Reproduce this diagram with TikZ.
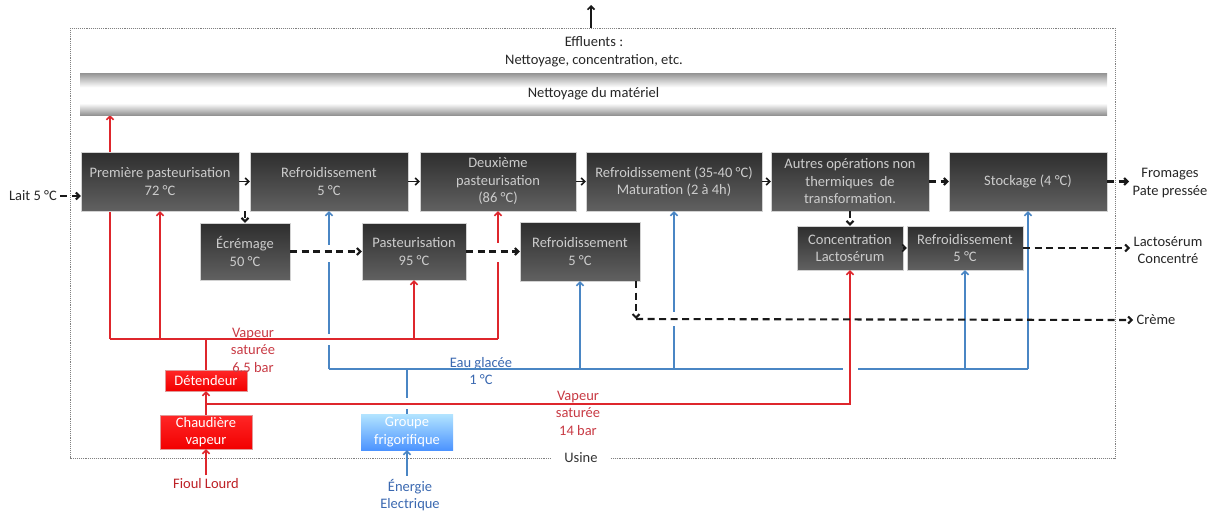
\documentclass[tikz,border=0pt]{standalone}
\usepackage{fontspec}
\setmainfont{Carlito}
\usetikzlibrary{shapes,arrows,arrows.meta,positioning,backgrounds}
\definecolor{vap}{RGB}{222,38,44}
\definecolor{vaptxt}{RGB}{200,58,68}
\definecolor{eau}{RGB}{74,134,196}
\definecolor{eautxt}{RGB}{58,104,176}
\pgfdeclareverticalshading{pipe}{100bp}{color(0bp)=(gray!85); color(25bp)=(gray!85);
  color(39bp)=(white); color(58bp)=(white); color(75bp)=(gray!85); color(100bp)=(gray!85)}

\tikzstyle{proc} = [draw=gray!35, top color=black!82, bottom color=black!62, rectangle,
    text=white!80!black, align=center, inner sep=0pt]
\tikzstyle{redbox} = [draw=red!70!black!40, top color=red!85, bottom color=red!95!black, rectangle,
    text=white, align=center, inner sep=0pt]
\tikzstyle{bluebox} = [top color=blue!35!cyan!30, bottom color=blue!60!cyan!70, rectangle,
    text=white, align=center, inner sep=0pt]
\tikzstyle{steam} = [draw=vap, line width=1.5pt]
\tikzstyle{water} = [draw=eau, line width=1.5pt]
\tikzstyle{flow} = [draw=black!90, line width=2.1pt, dash pattern=on 7pt off 4.5pt]
\tikzstyle{solidflow} = [draw=black!90, line width=1.6pt]

\begin{document}
\begin{tikzpicture}[x=1pt, y=-1pt, font=\fontsize{14.5}{17.5}\selectfont,
    >={Straight Barb[length=3.5pt,width=7pt]}]
\useasboundingbox (0,0) rectangle (1210,514);

% frame of the plant
\draw[gray, densely dotted, line width=0.9pt] (70,28) rectangle (1115,458);
\node[fill=white, inner xsep=12pt, inner ysep=2pt, text=black!80] (usine) at (581,458) {Usine};

\coordinate (efftop) at (591,28);
\coordinate (effout) at (591,5);
\draw[solidflow, ->] (efftop) -- (effout);
\node[align=center, text=black!85] (eff) at (594,52) {Effluents :\\Nettoyage, concentration, etc.};

\node[shading=pipe, minimum width=1027pt, minimum height=42pt, inner sep=0pt, text=black!85] (pipe) at (593.5,94) {Nettoyage du mat\'eriel};

% process blocks
\node[proc, minimum width=158pt, minimum height=59pt] (p1) at (160,181.5) {Premi\`ere pasteurisation\\72 °C};
\node[proc, minimum width=158pt, minimum height=59pt] (r1) at (329,181.5) {Refroidissement\\5 °C};
\node[proc, minimum width=156pt, minimum height=59pt] (p2) at (498,181.5) {Deuxi\`eme\\pasteurisation\\(86 °C)};
\node[proc, minimum width=176pt, minimum height=59pt] (r2) at (674,181.5) {Refroidissement (35-40 °C)\\Maturation (2 \`a 4h)};
\node[proc, minimum width=158pt, minimum height=59pt] (ops) at (850,181.5) {Autres op\'erations non\\thermiques\ \ de\\transformation.};
\node[proc, minimum width=158pt, minimum height=59pt] (st) at (1028,181.5) {Stockage (4 °C)};

\node[proc, minimum width=90pt, minimum height=57pt] (ecr) at (245,251.5) {\'Ecr\'emage\\50 °C};
\node[proc, minimum width=104pt, minimum height=57pt] (pas) at (414,251.5) {Pasteurisation\\95 °C};
\node[proc, minimum width=120pt, minimum height=59pt] (r3) at (580,251.5) {Refroidissement\\5 °C};
\node[proc, minimum width=106pt, minimum height=44pt] (conc) at (850,248) {Concentration\\Lactos\'erum};
\node[proc, minimum width=116pt, minimum height=44pt] (r4) at (965,248) {Refroidissement\\5 °C};

% utilities
\node[redbox, minimum width=82pt, minimum height=21pt] (det) at (206,380.5) {D\'etendeur};
\node[redbox, minimum width=92pt, minimum height=34pt] (chau) at (206,432) {Chaudi\`ere\\vapeur};
\node[bluebox, minimum width=92pt, minimum height=36pt] (grp) at (407,432) {Groupe\\frigorifique};

% outside labels
\node[text=black!85] (lait) at (33,196) {Lait 5 °C};
\node[align=center, text=black!85] (from) at (1170,183) {Fromages\\Pate press\'ee};
\node[align=center, text=black!85] (lact) at (1168,250) {Lactos\'erum\\Concentr\'e};
\node[text=black!85] (creme) at (1156,320) {Cr\`eme};
\node[text=vap!85!black] (fioul) at (206,484) {Fioul Lourd};
\node[align=center, text=eautxt] (elec) at (410,495) {\'Energie\\Electrique};
\node[align=center, text=vaptxt] (v65) at (253,350) {Vapeur\\satur\'ee\\6.5 bar};
\node[align=center, text=eautxt] (eg) at (481,371) {Eau glac\'ee\\1 °C};
\node[align=center, text=vaptxt] (v14) at (578,413) {Vapeur\\satur\'ee\\14 bar};

% chilled water
\coordinate (wA) at (329,369);
\coordinate (wB) at (1028,369);
\coordinate (wG) at (407,369);
\draw[water] (wA) -- (wB);
\draw[water] (grp.north) -- (wG);
\draw[water, ->] (wA) -- (r1.south);
\draw[water, ->] (wA -| r3.south) -- (r3.south);
\draw[water, ->] (wA -| r2.south) -- (r2.south);
\draw[water, ->] (wA -| r4.south) -- (r4.south);
\draw[water, ->] (wB) -- (st.south);
% gaps in the water lines
\fill[white] (324,245) rectangle (334,262);
\fill[white] (324,334) rectangle (334,345);
\fill[white] (402,398) rectangle (412,409);
\fill[white] (669,312) rectangle (679,326);
\fill[white] (843,364) rectangle (858,374);

% steam
\coordinate (sA) at (110,339);
\coordinate (sB) at (498,339);
\coordinate (sD) at (206,339);
\coordinate (sH) at (206,404);
\draw[steam] (sA) -- (sB);
\draw[steam] (det.north) -- (sD);
\begin{pgfonlayer}{background}
\draw[steam, ->] (sA) -- (sA |- pipe.south);
\end{pgfonlayer}
\draw[steam, ->] (sA -| p1.south) -- (p1.south);
\draw[steam, ->] (sA -| pas.south) -- (pas.south);
\draw[steam, ->] (sB) -- (p2.south);
\draw[steam, ->] (chau.north) -- (det.south);
\draw[steam, ->] (sH) -| (conc.south);
\draw[steam, ->] (fioul.north) -- (chau.south);
\draw[water, ->] (elec.north -| grp.south) -- (grp.south);
\fill[white] (493,243) rectangle (503,262);

% product flow
\coordinate (cr) at (636,319);
\draw[flow, ->] (lait.east) -- (lait.east -| p1.west);
\draw[solidflow, ->] (p1) -- (r1);
\draw[solidflow, ->] (r1) -- (p2);
\draw[solidflow, ->] (p2) -- (r2);
\draw[solidflow, ->] (r2) -- (ops);
\draw[flow, ->] (ops) -- (st);
\draw[flow, ->] (st.east) -- (from.west |- st.east);
\draw[flow, ->] (ecr.north |- r1.south) -- (ecr.north);
\draw[flow, ->] (ecr) -- (pas);
\draw[flow, ->] (pas) -- (r3);
\draw[flow, ->] (cr |- r3.south) -- (cr);
\draw[flow, ->] (cr) -- (creme.west);
\draw[flow, ->] (ops.south) -- (conc.north);
\draw[solidflow, ->] (conc) -- (r4);
\draw[flow, ->] (r4.east) -- (lact.west |- r4.east);
\end{tikzpicture}
\end{document}
